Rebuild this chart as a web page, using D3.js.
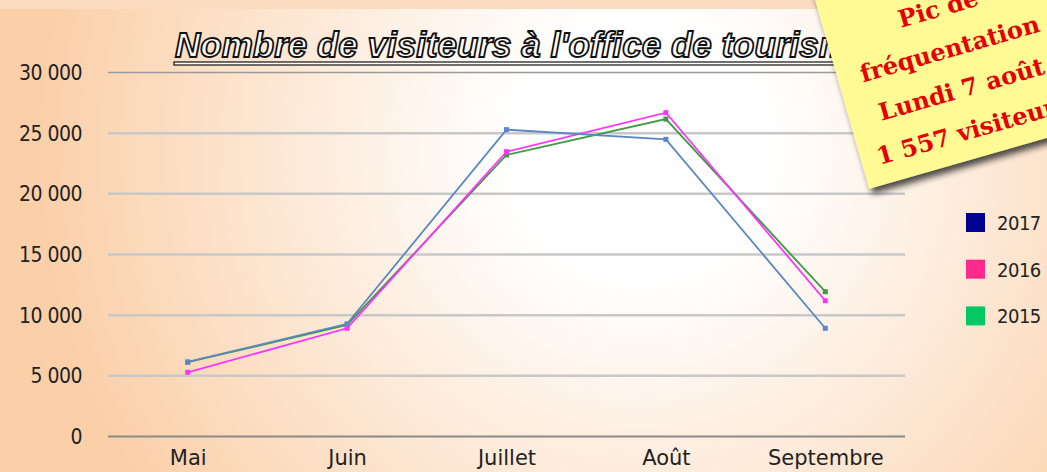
<!DOCTYPE html>
<html lang="fr">
<head>
	<meta charset="utf-8">
	<title>Visiteurs office de tourisme</title>
	<script type="text/javascript" src="https://d3js.org/d3.v7.min.js" charset="utf-8"></script>
	<style type="text/css">
		body { margin: 0; background: #fcd9ba; overflow: hidden; }
		.axis path { display: none; }
		.axis text {
		    font-family: "DejaVu Sans Condensed", sans-serif;
		    fill: #222;
		}
	</style>
</head>
<body>
<script type="text/javascript">

// Data
var months = ["Mai", "Juin", "Juillet", "Août", "Septembre"];
var years = ["2017", "2016", "2015"];
var v2017 = [6100, 9250, 25250, 24450, 8880];
var v2016 = [5250, 8880, 23430, 26650, 11150];
var v2015 = [6080, 9150, 23160, 26120, 11890];
var yTicks = [0, 5000, 10000, 15000, 20000, 25000, 30000];
var noteLines = ["Pic de", "fréquentation", "Lundi 7 août", "1 557 visiteurs"];

var lineColor = {"2017": "#5b88c4", "2016": "#ff33ff", "2015": "#3f9a45"};
var legendColor = {"2017": "#000090", "2016": "#ff2a8e", "2015": "#00c864"};

var outer_width = 1047;
var outer_height = 472;
var margin = {top: 72, left: 108, right: 142, bottom: 36};
var svg_width = outer_width - margin.left - margin.right;
var svg_height = outer_height - margin.top - margin.bottom;

var svg = d3.select("body")
			.append("svg")
			.attr("width", outer_width)
			.attr("height", outer_height);

var defs = svg.append("defs");

// background : white centre fading to peach
var grad = defs.append("radialGradient")
			.attr("id", "bg")
			.attr("gradientUnits", "userSpaceOnUse")
			.attr("cx", 640).attr("cy", 150).attr("r", 600);
grad.append("stop").attr("offset", "0.22").attr("stop-color", "#ffffff");
grad.append("stop").attr("offset", "0.6").attr("stop-color", "#fde8d5");
grad.append("stop").attr("offset", "1").attr("stop-color", "#fbd0a9");

var shadow = defs.append("filter")
			.attr("id", "shadow")
			.attr("x", "-20%").attr("y", "-20%")
			.attr("width", "150%").attr("height", "150%");
shadow.append("feDropShadow")
	.attr("dx", 2).attr("dy", 6)
	.attr("stdDeviation", 3)
	.attr("flood-color", "#222")
	.attr("flood-opacity", 0.8);

svg.append("rect")
	.attr("width", outer_width)
	.attr("height", outer_height)
	.attr("fill", "url(#bg)");

svg.append("rect")
	.attr("width", outer_width)
	.attr("height", 9)
	.attr("fill", "#fcdcc0");

var g = svg.append("g")
			.attr("transform", "translate(" + margin.left + "," + margin.top + ")");

// Scales
var xScale = d3.scalePoint()
				.domain(months)
				.range([0, svg_width])
				.padding(0.5);

var yScale = d3.scaleLinear()
				.domain([0, 30000])
				.range([svg_height, 0]);

var fmt = function(d) { return d3.format(",")(d).replace(",", " "); };

// Y axis with gridlines
var yAxis = d3.axisLeft()
				.scale(yScale)
				.tickValues(yTicks)
				.tickSize(-svg_width)
				.tickPadding(26)
				.tickFormat(fmt);

var yg = g.append("g")
	.attr("class", "axis")
	.call(yAxis);

yg.selectAll("line")
	.attr("stroke", function(d) { return d == 0 ? "#8a8a8a" : (d == 30000 ? "#9a9a9a" : "#c8c8c8"); })
	.attr("stroke-width", function(d) { return d == 0 ? 2 : (d == 30000 ? 1.5 : 2.5); });
yg.selectAll("text")
	.style("font-size", "21px")
	.attr("letter-spacing", "-0.5px")
	.attr("dy", "0.36em");

// X axis
var xAxis = d3.axisBottom()
				.scale(xScale)
				.tickSize(0);

var xg = g.append("g")
	.attr("class", "axis")
	.attr("transform", "translate(0," + svg_height + ")")
	.call(xAxis);
xg.selectAll("text")
	.attr("y", 29)
	.attr("dy", 0)
	.style("font-family", "'DejaVu Sans', sans-serif")
	.style("font-size", "21px");

// Lines, drawn 2015 first so 2017 sits on top
var series = [
	{year: "2015", values: v2015},
	{year: "2016", values: v2016},
	{year: "2017", values: v2017}
];

var line = d3.line()
			.x(function(d, i) { return xScale(months[i]); })
			.y(function(d) { return yScale(d); });

series.forEach(function(s) {
	g.append("path")
		.datum(s.values)
		.attr("fill", "none")
		.attr("stroke", lineColor[s.year])
		.attr("stroke-width", 1.8)
		.attr("d", line);
	g.selectAll(".pt" + s.year)
		.data(s.values)
		.enter()
		.append("rect")
		.attr("x", function(d, i) { return xScale(months[i]) - 2.5; })
		.attr("y", function(d) { return yScale(d) - 2.5; })
		.attr("width", 5)
		.attr("height", 5)
		.attr("fill", lineColor[s.year]);
});

// Title, outlined and underlined
svg.append("text")
	.attr("x", 175)
	.attr("y", 57)
	.attr("font-family", "'Liberation Sans', sans-serif")
	.attr("font-weight", "bold")
	.attr("font-style", "italic")
	.attr("font-size", "35px")
	.attr("fill", "#fff")
	.attr("stroke", "#111")
	.attr("stroke-width", 1.8)
	.text("Nombre de visiteurs à l'office de tourisme");

svg.append("rect")
	.attr("x", 174)
	.attr("y", 62)
	.attr("width", 700)
	.attr("height", 3)
	.attr("fill", "#fff")
	.attr("stroke", "#111")
	.attr("stroke-width", 1.2);

// Legend
var legend = svg.append("g")
			.attr("transform", "translate(966,213)");
years.forEach(function(y, i) {
	legend.append("rect")
		.attr("x", 0)
		.attr("y", i * 46.7)
		.attr("width", 19)
		.attr("height", 19)
		.attr("fill", legendColor[y]);
	legend.append("text")
		.attr("x", 31)
		.attr("y", i * 46.7 + 17)
		.attr("font-family", "'DejaVu Sans Condensed', sans-serif")
		.attr("font-size", "20px")
		.attr("letter-spacing", "-0.5px")
		.attr("fill", "#222")
		.text(y);
});

// Sticky note
var note = svg.append("g")
			.attr("transform", "translate(818,10) rotate(-16)");
note.append("rect")
	.attr("x", 0)
	.attr("y", -60)
	.attr("width", 240)
	.attr("height", 246)
	.attr("fill", "#fffa94")
	.attr("filter", "url(#shadow)");
note.selectAll("text.note")
	.data(noteLines)
	.enter()
	.append("text")
	.attr("class", "note")
	.attr("x", 116)
	.attr("y", function(d, i) { return 40 + i * 42; })
	.attr("text-anchor", "middle")
	.attr("font-family", "'DejaVu Serif', serif")
	.attr("font-weight", "bold")
	.attr("font-size", "24px")
	.attr("fill", "#e50000")
	.text(function(d) { return d; });

</script>
</body>
</html>
